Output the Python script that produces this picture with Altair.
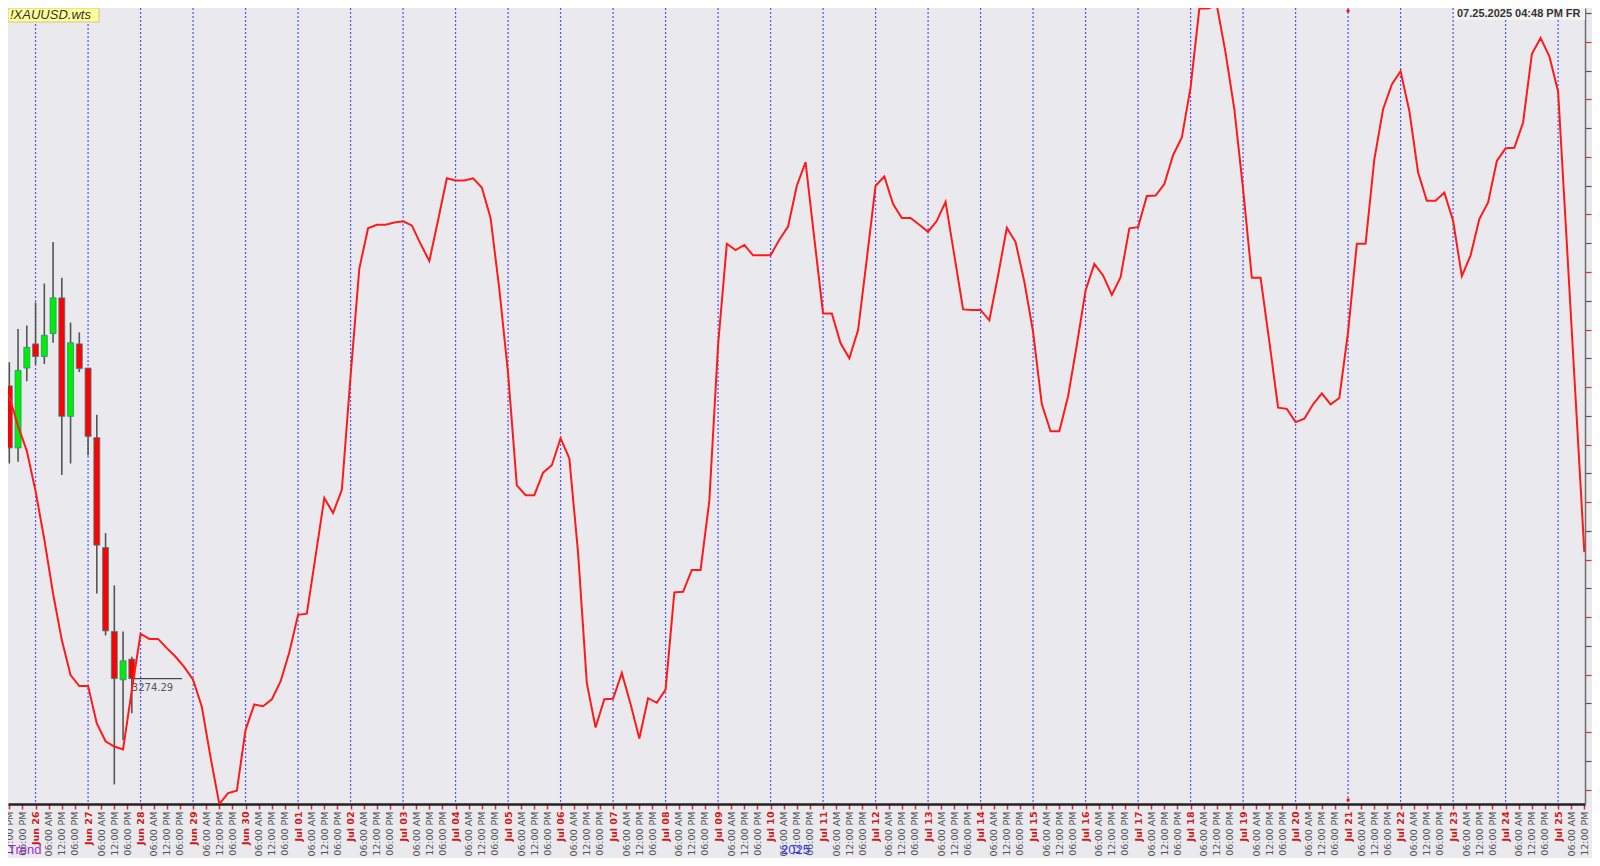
import altair as alt
import pandas as pd

# ------------------------------------------------------------------ data
BASE = pd.Timestamp("2025-06-26 00:00:00")   # 4-hour bar index 0

# 4-hour candles (bar index from Jun 26 00:00)
candle_bar = [-3, -2, -1, 0, 1, 2, 3, 4, 5, 6, 7, 8, 9, 10, 11]
candle_open = [3325.2, 3314.4, 3328.3, 3332.5, 3330.3, 3334.3, 3340.5, 3319.9,
               3332.5, 3328.3, 3316.2, 3297.1, 3282.5, 3274.1, 3277.7]
candle_high = [3329.3, 3335.1, 3335.7, 3339.7, 3343.0, 3350.2, 3344.0, 3336.2,
               3334.5, 3328.3, 3320.2, 3299.6, 3290.5, 3282.5, 3278.1]
candle_low = [3311.7, 3312.0, 3326.0, 3328.9, 3329.0, 3332.7, 3309.7, 3311.7,
              3327.6, 3313.1, 3289.1, 3281.8, 3255.9, 3263.6, 3268.3]
candle_close = [3314.4, 3327.9, 3331.9, 3330.3, 3334.0, 3340.5, 3319.9, 3332.7,
                3328.2, 3316.4, 3297.5, 3282.6, 3274.3, 3277.4, 3274.29]

# red "Trend" line, one value per 4-hour bar starting at bar -4
trend_first_bar = -4
trend_value = [
    3323.9, 3323.3, 3318.2, 3313.9, 3306.9, 3298.5, 3289.1, 3281.0, 3274.9, 3273.0,
    3273.0, 3266.5, 3263.4, 3262.5, 3262.0, 3272.3, 3282.1, 3281.2, 3281.2, 3279.6,
    3278.1, 3276.3, 3274.1, 3269.4, 3260.6, 3252.5, 3254.4, 3254.8, 3265.4, 3269.8,
    3269.5, 3270.7, 3273.8, 3278.9, 3285.4, 3285.6, 3295.6, 3305.7, 3303.1, 3307.1,
    3326.9, 3345.6, 3352.6, 3353.2, 3353.2, 3353.6, 3353.8, 3353.1, 3349.9, 3346.9,
    3354.0, 3361.3, 3360.9, 3360.9, 3361.3, 3359.7, 3354.4, 3342.0, 3327.4, 3307.9,
    3306.2, 3306.2, 3310.1, 3311.4, 3316.1, 3312.6, 3296.2, 3273.5, 3265.8, 3270.7,
    3270.8, 3275.3, 3269.9, 3263.9, 3270.9, 3270.1, 3272.4, 3289.3, 3289.4, 3293.2,
    3293.2, 3305.2, 3332.3, 3349.9, 3348.8, 3349.7, 3347.9, 3347.9, 3347.9, 3350.6,
    3352.9, 3360.0, 3364.1, 3350.8, 3337.8, 3337.8, 3332.6, 3330.0, 3334.9, 3347.3,
    3360.0, 3361.6, 3356.8, 3354.4, 3354.4, 3353.2, 3352.0, 3353.9, 3357.2, 3347.9,
    3338.5, 3338.4, 3338.4, 3336.6, 3344.4, 3352.7, 3350.2, 3343.3, 3334.6, 3322.0,
    3317.3, 3317.3, 3323.4, 3332.3, 3341.8, 3346.4, 3344.4, 3341.0, 3344.1, 3352.6,
    3352.8, 3358.2, 3358.3, 3360.3, 3365.3, 3368.4, 3377.1, 3390.8, 3390.8, 3391.4,
    3383.1, 3373.3, 3359.4, 3344.0, 3344.0, 3332.9, 3321.4, 3321.2, 3318.9, 3319.5,
    3322.0, 3323.9, 3322.0, 3323.1, 3334.6, 3349.9, 3349.9, 3364.6, 3373.3, 3377.6,
    3379.9, 3373.0, 3362.3, 3357.4, 3357.4, 3358.8, 3353.9, 3344.3, 3347.9, 3354.2,
    3357.1, 3364.3, 3366.5, 3366.6, 3371.0, 3382.9, 3385.7, 3382.5, 3376.4, 3349.9,
    3323.1, 3296.3,
]

last_price = 3274.29
last_line = ["2025-06-27 20:00:00", "2025-06-28 19:00:00"]
marker_time = "2025-07-21 00:00:00"
marker_price = [3390.4, 3253.2]
day_first, day_last = "2025-06-26", "2025-07-25"
tick_first, tick_last = "2025-06-25 12:00", "2025-07-25 12:00"   # 6-hour axis ticks

# ------------------------------------------------------------------ frames
def bar_time(k):
    return BASE + pd.Timedelta(hours=4 * k)

candles = pd.DataFrame({
    "t": [bar_time(k) for k in candle_bar],
    "open": candle_open, "high": candle_high,
    "low": candle_low, "close": candle_close,
})
candles["dir"] = ["up" if c >= o else "down" for o, c in zip(candle_open, candle_close)]

trend = pd.DataFrame({
    "t": [bar_time(trend_first_bar + i) for i in range(len(trend_value))],
    "p": trend_value,
})
days = pd.DataFrame({"t": pd.date_range(day_first, day_last, freq="D")})
lastdf = pd.DataFrame({"t": [pd.Timestamp(last_line[0])], "t2": [pd.Timestamp(last_line[1])],
                       "p": [last_price], "label": [f"{last_price:.2f}"]})
markers = pd.DataFrame({"t": [pd.Timestamp(marker_time)] * 2, "p": marker_price})
one = pd.DataFrame({"a": [0]})

tick_values = [alt.DateTime(year=ts.year, month=ts.month, date=ts.day, hours=ts.hour)
               for ts in pd.date_range(tick_first, tick_last, freq="6h")]

# ------------------------------------------------------------------ scales / axes
W, H = 1577, 796
x_scale = alt.Scale(domain=[alt.DateTime(year=2025, month=6, date=25, hours=11, minutes=24),
                            alt.DateTime(year=2025, month=7, date=25, hours=12, minutes=18)],
                    nice=False, padding=0)
y_scale = alt.Scale(domain=[3252.5, 3390.9], zero=False, nice=False, padding=0)

is_day = "hours(datum.value) == 0"
x_axis = alt.Axis(
    title=None, grid=False, values=tick_values,
    labelExpr=("hours(datum.value) == 0 ? timeFormat(datum.value, '%b %d') "
               ": timeFormat(datum.value, '%I:%M %p')"),
    labelAngle=270, labelAlign="right", labelBaseline="middle",
    labelFont="DejaVu Sans", labelFontSize=9.5, labelPadding=2,
    labelColor={"condition": {"test": is_day, "value": "#cc1a1a"}, "value": "#505050"},
    labelFontWeight={"condition": {"test": is_day, "value": "bold"}, "value": "normal"},
    labelOverlap=False, labelFlush=False,
    tickColor="#e82828", tickSize=5, tickWidth=1.5,
    domainColor="#222222", domainWidth=2.5,
)
y_axis = alt.Axis(
    orient="right", title=None, labels=False, grid=False,
    values=[3255 + 5 * i for i in range(28)],
    domainColor="#6e6e6e", domainWidth=1.5,
    tickColor={"condition": {"test": "datum.value % 10 == 0", "value": "#555555"},
               "value": "#e03030"},
    tickSize=6, tickWidth=1.2,
)

def X(field="t"):
    return alt.X(f"{field}:T", scale=x_scale, axis=x_axis)

def Y(field="p"):
    return alt.Y(f"{field}:Q", scale=y_scale, axis=y_axis)

# ------------------------------------------------------------------ layers
vlines = alt.Chart(days).mark_rule(color="#3535ff", strokeWidth=1.2, strokeDash=[2, 2],
                                   opacity=0.85).encode(x=X())

wicks = alt.Chart(candles).mark_rule(color="#555555", strokeWidth=1.6, clip=True).encode(
    x=X(), y=Y("low"), y2="high:Q")

bodies = alt.Chart(candles).mark_bar(size=6, stroke="#2f8a8a", strokeWidth=0.8, clip=True).encode(
    x=X(), y=Y("open"), y2="close:Q",
    color=alt.Color("dir:N", scale=alt.Scale(domain=["up", "down"], range=["#00ee00", "#ff0000"]),
                    legend=None))

last_rule = alt.Chart(lastdf).mark_rule(color="#222222", strokeWidth=1).encode(
    x=X(), x2="t2:T", y=Y())
last_text = alt.Chart(lastdf).mark_text(align="left", baseline="middle", dy=9,
                                        font="DejaVu Sans", fontSize=10, color="#555555").encode(
    x=X(), y=Y(), text="label:N")

line = alt.Chart(trend).mark_line(color="#ff1a1a", strokeWidth=2, clip=True).encode(x=X(), y=Y())

dots = alt.Chart(markers).mark_point(shape="square", filled=True, size=8, color="#ff0000",
                                     opacity=1).encode(x=X(), y=Y())

title_box = alt.Chart(one).mark_rect(fill="#ffff99", stroke="#c9c97a", strokeWidth=1).encode(
    x=alt.value(0), x2=alt.value(91), y=alt.value(0), y2=alt.value(14))
title_text = alt.Chart(one).mark_text(text="!XAUUSD.wts", align="left", baseline="middle",
                                      fontStyle="italic", font="Liberation Sans", fontSize=13,
                                      color="#333333").encode(x=alt.value(2), y=alt.value(7))

date_box = alt.Chart(one).mark_rect(fill="#f3f3f3").encode(
    x=alt.value(W - 131), x2=alt.value(W), y=alt.value(0), y2=alt.value(12))
date_text = alt.Chart(one).mark_text(text="07.25.2025  04:48 PM FR", align="left",
                                     baseline="middle", font="Liberation Sans", fontSize=11,
                                     fontWeight="bold", color="#333333").encode(
    x=alt.value(W - 128), y=alt.value(6))

trend_text = alt.Chart(one).mark_text(text="Trend", align="left", baseline="bottom",
                                      font="Liberation Sans", fontSize=13,
                                      color="#9b30c8").encode(x=alt.value(0), y=alt.value(H + 53))
year_text = alt.Chart(one).mark_text(text="2025", align="left", baseline="bottom",
                                     font="Liberation Sans", fontSize=13,
                                     color="#3434ff").encode(x=alt.value(773), y=alt.value(H + 53))

chart = alt.layer(
    vlines, wicks, bodies, last_rule, last_text, line, dots,
    title_box, title_text, date_box, date_text, trend_text, year_text,
).properties(
    width=W, height=H,
    autosize=alt.AutoSizeParams(type="none"),
    padding={"left": 0, "top": 0, "right": 7, "bottom": 54},
    background="#EAEAEE",
).configure_view(stroke="transparent")

chart.save("out.html", embed_options={"renderer": "svg", "actions": False})
